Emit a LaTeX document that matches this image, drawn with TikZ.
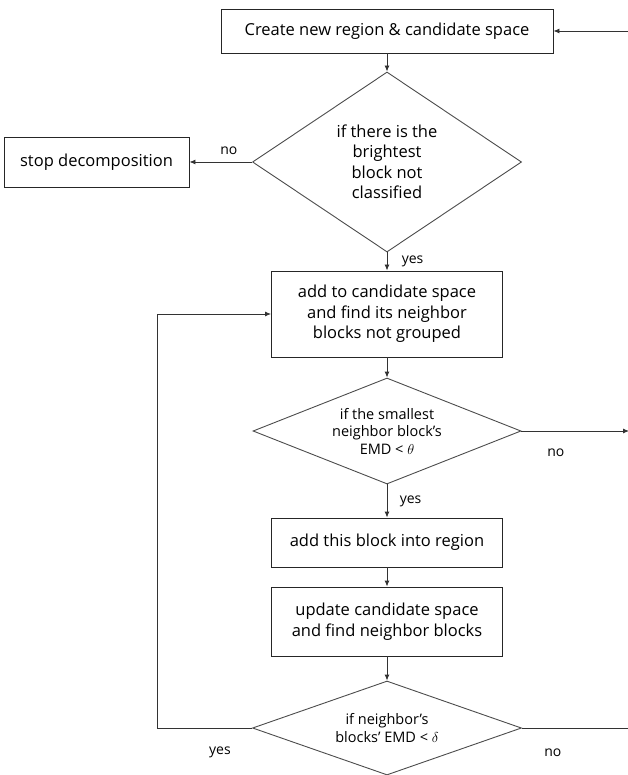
\documentclass[tikz,border=0pt]{standalone}
\usepackage{fontspec}
\setmainfont{Open Sans}
\usetikzlibrary{shapes.geometric,positioning,arrows.meta}

\tikzset{
    procbox/.style={draw=black!85, rectangle, align=center, minimum width=231pt,
        font=\fontsize{16.5}{20.5}\selectfont},
    decide/.style={draw=black!70, diamond, align=center, inner sep=1pt,
        font=\fontsize{14.5}{17.5}\selectfont},
    lbl/.style={font=\fontsize{14}{16}\selectfont}
}

\begin{document}
\begin{tikzpicture}[x=1pt,y=1pt,>={Latex[length=6pt,width=5pt]},on grid,auto,line width=0.9pt,draw=black!80]
            \useasboundingbox (0,0) rectangle (628,-775);
            \node[procbox, minimum width=332pt, minimum height=44pt] (create) at (387,-31) {Create new region \& candidate space};
            \node[decide, minimum width=269pt, minimum height=180pt, shape aspect=1.49,
                font=\fontsize{16.5}{20.5}\selectfont] (bright) [below=131pt of create] {if there is the\\brightest\\block not\\classified};
            \node[procbox, minimum width=185pt, minimum height=50pt] (stop) [left=290.5pt of bright] {stop decomposition};
            \node[procbox, minimum height=86pt] (addcand) [below=152pt of bright] {add to candidate space\\and find its neighbor\\blocks not grouped};
            \node[decide, minimum width=268pt, minimum height=106pt, shape aspect=2.53] (smallest) [below=117pt of addcand] {if the smallest\\neighbor block's\\EMD < $\theta$};
            \node[procbox, minimum height=49pt] (addblock) [below=111.5pt of smallest] {add this block into region};
            \node[procbox, minimum height=69pt] (update) [below=79pt of addblock] {update candidate space\\and find neighbor blocks};
            \node[decide, minimum width=269pt, minimum height=94pt, shape aspect=2.86] (nbtest) [below=106.5pt of update] {if neighbor's\\blocks' EMD < $\delta$};

            \coordinate[right=241pt of create] (rtop);
            \coordinate[right=242pt of smallest] (rmid);
            \coordinate[right=241.5pt of nbtest] (rbot);
            \coordinate[left=229.5pt of nbtest] (lbot);

            \path[->]
                (create)
                    edge (bright)
                (bright)
                    edge node[lbl, right=11pt] {yes} (addcand)
                    edge node[lbl, above=4pt, pos=0.37] {no} (stop)
                (addcand)
                    edge (smallest)
                (smallest)
                    edge node[lbl, right=9pt] {yes} (addblock)
                (addblock)
                    edge (update)
                (update)
                    edge (nbtest);

            \draw[->] (rtop) -- (create);
            \draw[->] (smallest) -- node[lbl, below=14pt, pos=0.32] {no} (rmid);
            \draw (nbtest) -- node[lbl, below=17pt, pos=0.29] {no} (rbot);
            \draw[->] (nbtest) -- node[lbl, below=15pt, pos=0.34] {yes} (lbot) |- (addcand);
        \end{tikzpicture}
\end{document}
